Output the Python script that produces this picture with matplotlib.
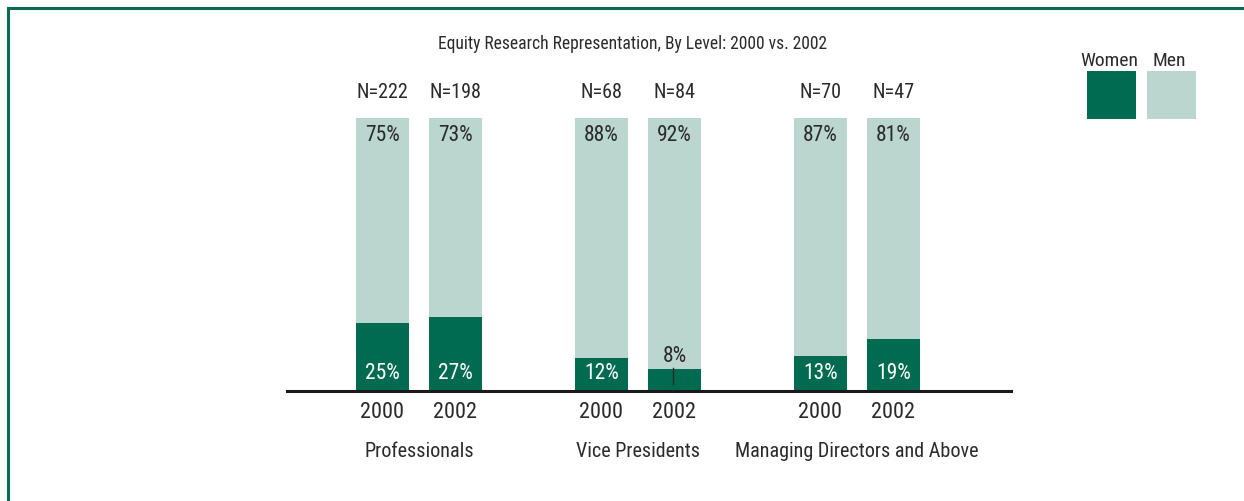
import matplotlib
matplotlib.use("Agg")
import matplotlib.pyplot as plt
from matplotlib import font_manager as fm
from matplotlib.lines import Line2D
from matplotlib.patches import Rectangle

# ---- data ----
groups = ["Professionals", "Vice Presidents", "Managing Directors and Above"]
years = ["2000", "2002"]
women = [[25, 27], [12, 8], [13, 19]]
men = [[75, 73], [88, 92], [87, 81]]
n_counts = [[222, 198], [68, 84], [70, 47]]
series = ["Women", "Men"]
title = "Equity Research Representation, By Level: 2000 vs. 2002"

# ---- pick the narrowest installed sans ----
def pick_font():
    prefs = ["LiberationSansNarrow-Regular", "RobotoCondensed-Regular", "RobotoCondensed-Light",
             "OpenSansCondensed-Light", "OpenSans_Condensed-Regular", "OpenSansCondensed-Regular",
             "DejaVuSansCondensed.ttf", "Roboto-Regular", "LiberationSans-Regular"]
    files = [f.fname for f in fm.fontManager.ttflist]
    for p in prefs:
        for fn in files:
            if p.lower() in fn.lower().replace(" ", ""):
                return fm.FontProperties(fname=fn)
    for fn in files:
        low = fn.lower()
        if ("condensed" in low or "narrow" in low) and "bold" not in low and "italic" not in low:
            return fm.FontProperties(fname=fn)
    return fm.FontProperties(family="DejaVu Sans")

FP = pick_font()

DARK = "#006B50"
LIGHT = "#BAD6CF"
TXT = "#2a2a2a"

W, H = 1244, 501
fig = plt.figure(figsize=(W / 100, H / 100), dpi=100)
renderer = fig.canvas.get_renderer()
ax = fig.add_axes([287 / W, (H - 391) / H, (1011 - 287) / W, 273 / H])

fitted = []

def fit(t, target_w, max_size):
    t.set_fontproperties(FP)
    t.set_fontsize(max_size)
    fitted.append((t, target_w, max_size))

group_step = 3.0
offset = 0.5
bw = 0.726

xs, xl = [], []
for gi, g in enumerate(groups):
    for yi, yr in enumerate(years):
        x = gi * group_step + (yi - 0.5) * 2 * offset
        w = women[gi][yi]
        m = men[gi][yi]
        ax.bar(x, w, width=bw, color=DARK, linewidth=0)
        ax.bar(x, m, width=bw, bottom=w, color=LIGHT, linewidth=0)
        xs.append(x)
        xl.append(yr)
        t = ax.text(x, 109.4, f"N={n_counts[gi][yi]}", ha="center", va="center", color=TXT)
        fit(t, 66, 14.5)
        t = ax.text(x, 93.6, f"{m}%", ha="center", va="center", color=TXT)
        fit(t, 48, 15.5)
        if w >= 10:
            t = ax.text(x, 6.4, f"{w}%", ha="center", va="center", color="white")
        else:
            t = ax.text(x, 12.6, f"{w}%", ha="center", va="center", color=TXT)
            ax.plot([x - 0.02, x - 0.02], [2.4, 8.6], color=TXT, linewidth=1)
        fit(t, 48, 15.5)
    t = ax.text(gi * group_step, -22, g, ha="center", va="center", color=TXT)
    fit(t, [140, 150, 260][gi], 14.5)

ax.set_xlim(-1.808, 8.11)
ax.set_ylim(0, 100)
ax.set_xticks(xs)
ax.set_xticklabels(xl, color=TXT)
for lab in ax.get_xticklabels():
    fit(lab, 60, 16)
ax.tick_params(axis="x", length=0, pad=8)
ax.set_yticks([])
for s in ["top", "right", "left"]:
    ax.spines[s].set_visible(False)
ax.spines["bottom"].set_linewidth(2.2)
ax.spines["bottom"].set_color("#1a1a1a")
ax.patch.set_visible(False)

t = fig.text(632 / W, 1 - 44 / H, title, ha="center", va="center", color=TXT)
fit(t, 390, 13.2)

# legend
leg_cols = [DARK, LIGHT]
leg_x = [1087, 1147]
for lx, c, name in zip(leg_x, leg_cols, series):
    fig.patches.append(Rectangle((lx / W, 1 - 119 / H), 49 / W, 48 / H,
                                 transform=fig.transFigure, color=c, linewidth=0))
    cx = (lx + 22) / W
    t = fig.text(cx, 1 - 61 / H, name, ha="center", va="center", color=TXT)
    fit(t, 58, 14)

# shrink texts that are wider than their room
for t, tw, ms in fitted:
    wpx = t.get_window_extent(renderer).width
    if wpx > tw:
        t.set_fontsize(ms * tw / wpx)

# frame
fig.lines.append(Line2D([8 / W, 8 / W, 1], [0, 1 - 7.5 / H, 1 - 7.5 / H],
                        transform=fig.transFigure, color="#0B6B52", linewidth=2.2,
                        solid_joinstyle="miter"))

fig.savefig("out.png", dpi=100)
